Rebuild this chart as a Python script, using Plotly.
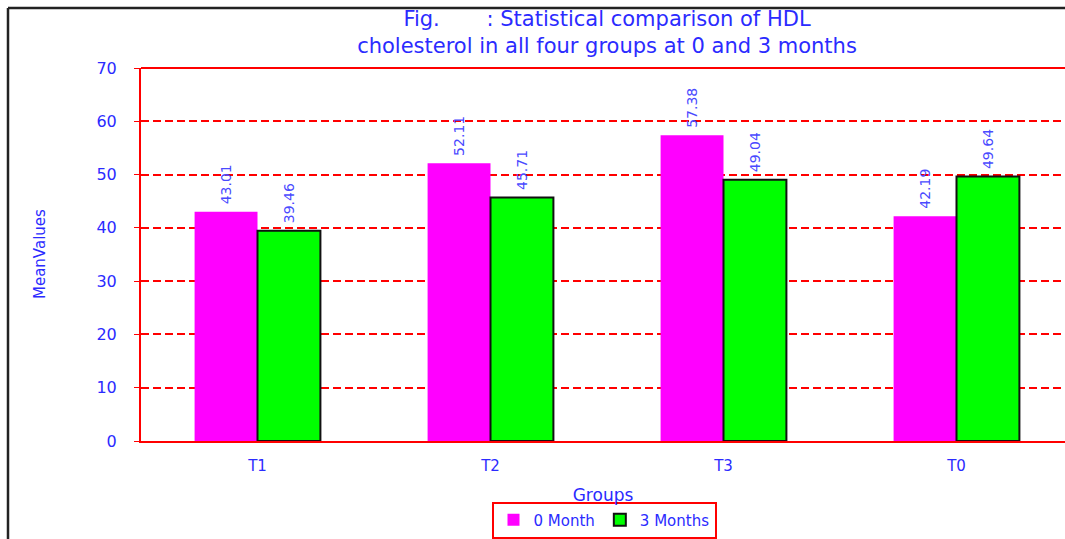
import plotly.graph_objects as go

categories = ["T1", "T2", "T3", "T0"]
month0 = [43.01, 52.11, 57.38, 42.19]
month3 = [39.46, 45.71, 49.04, 49.64]
month0_labels = ["43.01", "52.11", "57.38", "42.19"]
month3_labels = ["39.46", "45.71", "49.04", "49.64"]
y_ticks = [0, 10, 20, 30, 40, 50, 60, 70]

BLUE = "#2b2bff"
LBLUE = "#4a4aff"
FONT = "DejaVu Sans, Liberation Sans, Arial, sans-serif"

# body margin is removed below, so these are screen pixel positions
W, H = 1065, 539
L, R, T, B = 141, 0, 68, 98
pw, ph = W - L - R, H - T - B
cat_w = 233  # pixel width of one category slot in the reference

def px_x(x):
    return (x - L) / pw

def px_y(y):
    return (H - B - y) / ph

pad = "\u00a0"
fig = go.Figure()
fig.add_trace(go.Bar(
    name="0 Month", x=categories, y=month0,
    marker=dict(color="#ff00ff", line=dict(color="#ff00ff", width=0)),
    text=[pad + s for s in month0_labels], textposition="outside", textangle=-90,
    textfont=dict(color=LBLUE, size=14, family=FONT), cliponaxis=False,
))
fig.add_trace(go.Bar(
    name="3 Months", x=categories, y=month3,
    marker=dict(color="#00ff00", line=dict(color="#111111", width=2)),
    text=[pad + s for s in month3_labels], textposition="outside", textangle=-90,
    textfont=dict(color=LBLUE, size=14, family=FONT), cliponaxis=False,
))

fig.update_layout(
    width=W, height=H,
    margin=dict(l=L, r=R, t=T, b=B, pad=0, autoexpand=False),
    paper_bgcolor="white", plot_bgcolor="white",
    barmode="group", bargap=0.46, bargroupgap=0,
    font=dict(family=FONT, color=BLUE),
    title=dict(
        text="Fig.\u00a0\u00a0\u00a0\u00a0\u00a0\u00a0\u00a0: Statistical comparison of HDL<br>cholesterol in all four groups at 0 and 3 months",
        x=607 / W, xanchor="center", xref="container",
        y=1 - 26 / H, yanchor="middle", yref="container",
        font=dict(size=21, color=BLUE, family=FONT),
    ),
    xaxis=dict(
        range=[-0.5, -0.5 + pw / cat_w], showgrid=False,
        showline=True, linecolor="red", linewidth=2,
        ticks="", tickfont=dict(size=15, color=BLUE),
        ticklabelstandoff=10,
        title=dict(text="Groups", font=dict(size=17, color=BLUE), standoff=15),
    ),
    yaxis=dict(
        range=[0, 70], tickvals=y_ticks,
        showline=True, linecolor="red", linewidth=2,
        ticks="outside", ticklen=5, tickcolor="red", tickwidth=1,
        ticklabelstandoff=14,
        tickfont=dict(size=16, color=BLUE),
        showgrid=True, gridcolor="red", griddash="8px,4px", gridwidth=1.5,
        zeroline=False,
    ),
    legend=dict(
        orientation="h", x=px_x(604), xanchor="center",
        y=px_y(520), yanchor="middle",
        bordercolor="red", borderwidth=2, bgcolor="white",
        font=dict(size=15, color=BLUE), itemwidth=30,
        tracegroupgap=0,
    ),
    showlegend=True,
)

# top red frame line of plot area
fig.add_shape(type="line", xref="paper", yref="paper", x0=0, x1=1, y0=1, y1=1,
              line=dict(color="red", width=2))
# outer black frame (top and left)
fig.add_shape(type="line", xref="paper", yref="paper",
              x0=px_x(8), x1=px_x(W), y0=px_y(8), y1=px_y(8),
              line=dict(color="#222222", width=2.5))
fig.add_shape(type="line", xref="paper", yref="paper",
              x0=px_x(8), x1=px_x(8), y0=px_y(8), y1=px_y(H),
              line=dict(color="#222222", width=2.5))

fig.add_annotation(
    text="MeanValues", xref="paper", yref="paper",
    x=px_x(40), y=px_y(254), textangle=-90, showarrow=False,
    font=dict(size=15, color=BLUE, family=FONT),
    xanchor="center", yanchor="middle",
)

fig.write_html(
    "out.html",
    config={"displayModeBar": False},
    post_script="document.body.style.margin='0px';document.body.style.overflow='hidden';",
)
